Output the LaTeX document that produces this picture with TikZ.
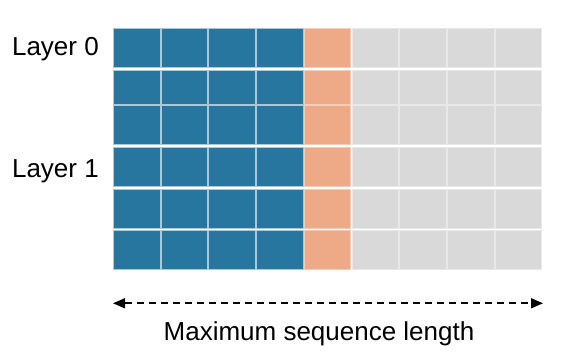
\documentclass[tikz,border=0pt]{standalone}
\usepackage{fontspec}
\setmainfont{Liberation Sans}
\usetikzlibrary{arrows.meta}
\definecolor{cblue}{HTML}{27769F}
\definecolor{corange}{HTML}{EEAA86}
\definecolor{cgray}{HTML}{D9D9D9}
\tikzset{
  cell/.style={line width=0.8pt},
  lbl/.style={font=\fontsize{26}{30}\selectfont, inner sep=0pt},
}
\begin{document}
\begin{tikzpicture}[x=1pt,y=-1pt]
\useasboundingbox (0,0) rectangle (579,356);
\foreach \t/\b in {28/67.7,70/104,105.3/144.7,147/186.3,189/228.7,230.3/269.7}{
  \foreach \i in {0,...,8}{
    \pgfmathsetmacro{\xa}{113.3+\i*47.72}
    \pgfmathsetmacro{\xb}{\xa+46.6}
    \ifnum\i<4
      \fill[cblue,draw=cblue!40!white,cell] (\xa,\t) rectangle (\xb,\b);
    \else\ifnum\i=4
      \fill[corange,draw=corange!60!white,cell] (\xa,\t) rectangle (\xb,\b);
    \else
      \fill[cgray,draw=cgray!60!white,cell] (\xa,\t) rectangle (\xb,\b);
    \fi\fi
  }
}
\node[lbl,anchor=base east] (l0) at (99,56) {Layer 0};
\node[lbl,anchor=base east] (l1) at (99,177) {Layer 1};
\coordinate (al) at (113,303.3);
\coordinate (ar) at (543,303.3);
\draw[line width=1.8pt,dash pattern=on 7pt off 5pt,{Triangle[length=12pt,width=10pt]}-{Triangle[length=12pt,width=10pt]}] (al) -- (ar);
\node[lbl,anchor=base] (ml) at (319,340) {Maximum sequence length};
\end{tikzpicture}
\end{document}
